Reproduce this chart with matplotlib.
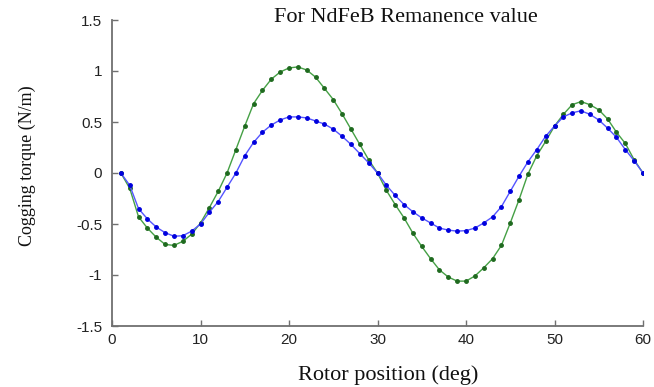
import matplotlib
matplotlib.use("Agg")
import matplotlib.pyplot as plt
import numpy as np

rotor_deg = list(range(1, 61))
torque_green = [0.0, -0.15, -0.43, -0.54, -0.63, -0.70, -0.71, -0.67, -0.60, -0.49,
                -0.34, -0.18, 0.0, 0.23, 0.46, 0.68, 0.81, 0.92, 0.99, 1.03,
                1.04, 1.01, 0.94, 0.83, 0.72, 0.58, 0.43, 0.28, 0.13, 0.0,
                -0.17, -0.31, -0.44, -0.59, -0.72, -0.84, -0.95, -1.02, -1.06, -1.06,
                -1.01, -0.93, -0.84, -0.71, -0.49, -0.26, -0.01, 0.17, 0.31, 0.46,
                0.575, 0.67, 0.70, 0.67, 0.62, 0.53, 0.40, 0.29, 0.13, 0.0]
torque_blue = [0.0, -0.12, -0.35, -0.45, -0.53, -0.585, -0.62, -0.615, -0.57, -0.50,
               -0.385, -0.28, -0.14, 0.0, 0.17, 0.30, 0.40, 0.47, 0.52, 0.55,
               0.55, 0.54, 0.51, 0.48, 0.43, 0.36, 0.28, 0.19, 0.10, 0.0,
               -0.12, -0.22, -0.31, -0.38, -0.44, -0.49, -0.54, -0.56, -0.57, -0.565,
               -0.54, -0.49, -0.43, -0.33, -0.18, -0.03, 0.11, 0.23, 0.36, 0.46,
               0.55, 0.59, 0.61, 0.575, 0.52, 0.44, 0.35, 0.23, 0.12, 0.0]
x_ticks = [0, 10, 20, 30, 40, 50, 60]
y_ticks = [-1.5, -1, -0.5, 0, 0.5, 1, 1.5]
y_tick_labels = ["-1.5", "-1", "-0.5", "0", "0.5", "1", "1.5"]

fig = plt.figure(figsize=(6.54, 3.87), dpi=100)
ax = fig.add_axes([112/654, 61/387, 531/654, 306/387])

ax.plot(rotor_deg, torque_green, color="#45a045", lw=1.0, marker="o", ms=2.5,
        mfc="#1f6a1f", mec="#1f6a1f")
ax.plot(rotor_deg, torque_blue, color="#5555ff", lw=1.0, marker="o", ms=2.5,
        mfc="#0000dd", mec="#0000dd")

ax.set_xlim(0, 60)
ax.set_ylim(-1.5, 1.5)
ax.set_xticks(x_ticks)
ax.set_yticks(y_ticks)
ax.set_yticklabels(y_tick_labels)
for s in ["top", "right"]:
    ax.spines[s].set_visible(False)
for s in ["left", "bottom"]:
    ax.spines[s].set_color("#707070")
    ax.spines[s].set_linewidth(1.3)
ax.tick_params(direction="in", length=4, width=1.0, color="#707070",
               labelsize=11, labelcolor="#222222")
ax.tick_params(axis="y", pad=7)
ax.tick_params(axis="x", pad=5)
for lab in ax.get_xticklabels() + ax.get_yticklabels():
    lab.set_family(["Liberation Sans", "DejaVu Sans"])

fig.text(406/654, 1 - 17/387, "For NdFeB Remanence value", ha="center", va="center",
         fontsize=16, family=["Liberation Serif", "DejaVu Serif"], color="#111111")
fig.text(388/654, 1 - 375/387, "Rotor position (deg)", ha="center", va="center",
         fontsize=16, family=["Liberation Serif", "DejaVu Serif"], color="#111111")
fig.text(27/654, 1 - 166/387, "Cogging torque (N/m)", ha="center", va="center",
         rotation=90, fontsize=13, family=["Liberation Serif", "DejaVu Serif"],
         color="#111111")

fig.savefig("out.png", dpi=100, facecolor="white")
